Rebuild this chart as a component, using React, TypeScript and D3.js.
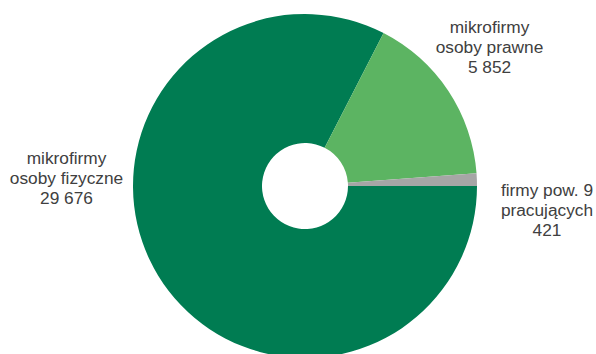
import React from "react";
import * as d3 from "d3";

const categories = ["mikrofirmy osoby fizyczne", "mikrofirmy osoby prawne", "firmy pow. 9 pracujących"];
const values = [29676, 5852, 421];
const labelLines = [
  ["mikrofirmy", "osoby fizyczne", "29 676"],
  ["mikrofirmy", "osoby prawne", "5 852"],
  ["firmy pow. 9", "pracujących", "421"],
];
const colors = ["#007C52", "#5CB462", "#A6A6A6"];

const W = 596;
const H = 354;
const cx = 305;
const cy = 186;
const outerR = 172;
const innerR = 43;
// label anchor centres (x) and first baseline (y)
const labelPos: [number, number][] = [
  [66.5, 164],
  [489.5, 33],
  [547, 196],
];

export default function App() {
  const pie = d3
    .pie<number>()
    .sort(null)
    .startAngle(Math.PI / 2)
    .endAngle(Math.PI / 2 + 2 * Math.PI);
  const arcs = pie(values);
  const arc = d3.arc<d3.PieArcDatum<number>>().innerRadius(innerR).outerRadius(outerR);

  return (
    <svg
      width={W}
      height={H}
      style={{ position: "absolute", left: 0, top: 0, display: "block" }}
      fontFamily="'Liberation Sans', Arial, sans-serif"
    >
      <rect width={W} height={H} fill="#fff" />
      <g transform={`translate(${cx},${cy})`}>
        {arcs.map((a, i) => (
          <path key={categories[i]} d={arc(a) || ""} fill={colors[i]} />
        ))}
      </g>
      {labelLines.map((lines, i) => (
        <text key={i} textAnchor="middle" fontSize={17.3} fill="#404040">
          {lines.map((l, j) => (
            <tspan key={j} x={labelPos[i][0]} y={labelPos[i][1] + j * 20}>
              {l}
            </tspan>
          ))}
        </text>
      ))}
    </svg>
  );
}
